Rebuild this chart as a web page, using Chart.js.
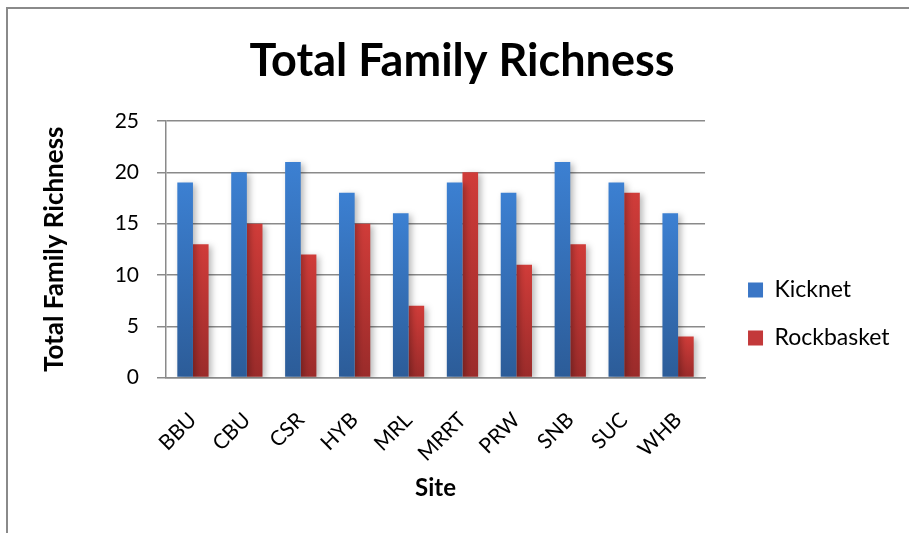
<!DOCTYPE html>
<html><head><meta charset="utf-8">
<script src="https://cdn.jsdelivr.net/npm/chart.js@4.4.0/dist/chart.umd.min.js"></script>
<style>
html,body{margin:0;padding:0;background:#fff;}
#wrap{position:relative;width:909px;height:533px;overflow:hidden;}
#frame{position:absolute;left:6px;top:7px;width:1000px;height:1000px;border-left:2px solid #8a8a8a;border-top:2px solid #8a8a8a;pointer-events:none;}
canvas{position:absolute;left:0;top:0;}
</style></head><body>
<div id="wrap"><canvas id="c" width="909" height="533"></canvas><div id="frame"></div></div>
<script>
const sites = ['BBU','CBU','CSR','HYB','MRL','MRRT','PRW','SNB','SUC','WHB'];
const kicknet = [19,20,21,18,16,19,18,21,19,16];
const rockbasket = [13,15,12,15,7,20,11,13,18,4];
const yTicks = [0,5,10,15,20,25];
const seriesNames = ['Kicknet','Rockbasket'];

const FONT = 'Lato, "Open Sans", sans-serif';

function barGrad(top, bottom) {
  return (c) => {
    const ch = c.chart;
    const ys = ch.scales && ch.scales.y;
    if (!ys || c.type !== 'data' || ys.height == null) return top;
    const y0 = ys.getPixelForValue(c.raw);
    const y1 = ys.getPixelForValue(0);
    if (!isFinite(y0) || !isFinite(y1) || y0 === y1) return top;
    const g = ch.ctx.createLinearGradient(0, y0, 0, y1);
    g.addColorStop(0, top);
    g.addColorStop(1, bottom);
    return g;
  };
}

const shadowPlugin = {
  id: 'barShadow',
  beforeDatasetsDraw(ch) {
    const c = ch.ctx; c.save();
    c.shadowColor = 'rgba(0,0,0,0.28)';
    c.shadowBlur = 6; c.shadowOffsetX = 3; c.shadowOffsetY = 2;
  },
  afterDatasetsDraw(ch) { ch.ctx.restore(); }
};

new Chart(document.getElementById('c'), {
  type: 'bar',
  data: {
    labels: sites,
    datasets: [
      { label: seriesNames[0], data: kicknet, backgroundColor: barGrad('#3c80d2', '#2c5c98'), legendColor: '#3a76c6', borderWidth: 0 },
      { label: seriesNames[1], data: rockbasket, backgroundColor: barGrad('#d03c39', '#9a2b2a'), legendColor: '#c3393a', borderWidth: 0 }
    ]
  },
  options: {
    responsive: false,
    animation: false,
    devicePixelRatio: 1,
    categoryPercentage: 0.58,
    barPercentage: 1.0,
    layout: { padding: { left: 24.5, right: 9.5, top: 0, bottom: 0 } },
    plugins: {
      title: {
        display: true, text: 'Total Family Richness', color: '#000',
        font: { family: FONT, size: 45, weight: 'bold' },
        padding: { top: 34, bottom: 33 }
      },
      legend: {
        position: 'right',
        maxWidth: 300,
        title: { display: true, text: '', font: { size: 12 }, padding: { top: 0, bottom: 80.6 } },
        labels: {
          boxWidth: 15, boxHeight: 15, padding: 25, color: '#000',
          font: { family: FONT, size: 23 },
          generateLabels(ch) {
            return ch.data.datasets.map((d, i) => ({
              text: d.label, fillStyle: d.legendColor, strokeStyle: d.legendColor,
              fontColor: '#000', lineWidth: 0, hidden: false, datasetIndex: i
            }));
          }
        }
      },
      tooltip: { enabled: false }
    },
    scales: {
      x: {
        grid: { display: false, drawTicks: true, tickLength: 22 },
        border: { display: true, color: '#8a8a8a', width: 1.5 },
        ticks: { color: '#000', font: { family: FONT, size: 21 }, maxRotation: 45, minRotation: 45, padding: 8 },
        title: { display: true, text: 'Site', color: '#000', font: { family: FONT, size: 24, weight: 'bold' }, padding: { top: 0, bottom: 30 } }
      },
      y: {
        min: 0, max: 25,
        afterBuildTicks(s) { s.ticks = yTicks.map(v => ({ value: v })); },
        afterFit(s) { s.width = 141.5; },
        ticks: { color: '#000', font: { family: FONT, size: 21 }, padding: 18 },
        grid: { color: '#8a8a8a', lineWidth: 1.5, tickLength: 9 },
        border: { display: true, color: '#8a8a8a', width: 1.5 },
        title: { display: true, text: 'Total Family Richness', color: '#000', font: { family: FONT, size: 26, weight: 'bold' }, padding: { top: 14.6, bottom: 10 } }
      },
      yR: {
        position: 'right', display: true,
        grid: { display: false, drawTicks: false }, border: { display: false },
        ticks: { display: false },
        afterFit(s) { s.width = 18; }
      }
    }
  },
  plugins: [shadowPlugin]
});
</script>
</body></html>
